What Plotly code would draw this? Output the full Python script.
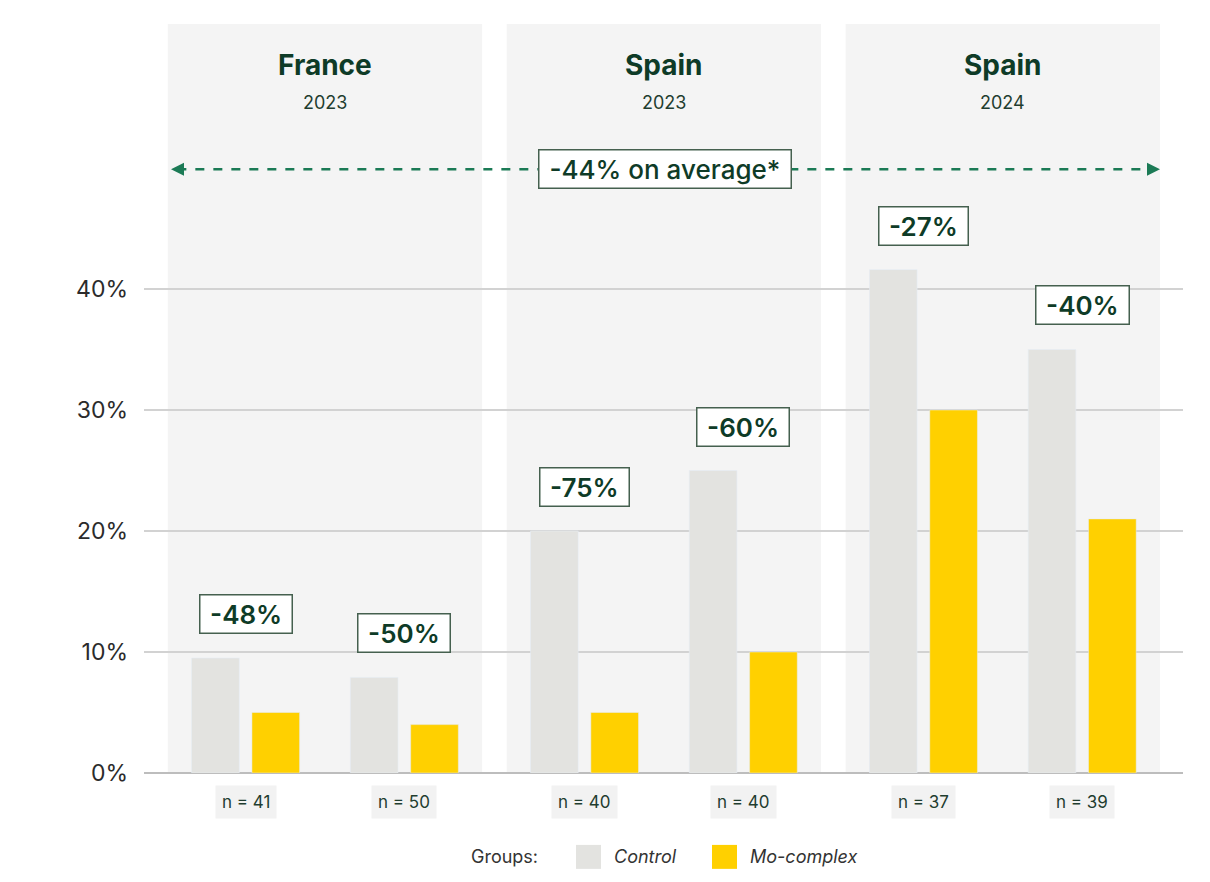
import plotly.graph_objects as go

# ! chart data
group_names = ["France", "Spain", "Spain"]
group_years = ["2023", "2023", "2024"]
bar_group = [0, 0, 1, 1, 2, 2]
control = [9.5, 7.9, 20.0, 25.0, 41.6, 35.0]
mo_complex = [5.0, 4.0, 5.0, 10.0, 30.0, 21.0]
reductions = ["-48%", "-50%", "-75%", "-60%", "-27%", "-40%"]
sample_sizes = [41, 50, 40, 40, 37, 39]
average_label = "-44% on average*"
y_ticks = [0, 10, 20, 30, 40]

GREEN_DARK = "#0e3b27"
GREEN_ARROW = "#1b7a55"
PANEL = "#f4f4f4"
CONTROL_COL = "#e3e3e0"
MO_COL = "#ffd000"
FONT = "Inter"
SP = "&nbsp;"

# position of each bar pair: groups are spaced a bit wider than pairs
GROUP_STEP = 2.135
x_pos = []
for i, g in enumerate(bar_group):
    x_pos.append(g * GROUP_STEP + bar_group[:i].count(g))

fig = go.Figure()
fig.add_trace(go.Bar(x=x_pos, y=control, name="Control", marker_color=CONTROL_COL,
                     hoverinfo="skip"))
fig.add_trace(go.Bar(x=x_pos, y=mo_complex, name="Mo-complex", marker_color=MO_COL,
                     hoverinfo="skip"))

shapes = []
annotations = []

# ! panels + titles
PAD = 0.49
for g in range(len(group_names)):
    xs = [x for x, gg in zip(x_pos, bar_group) if gg == g]
    shapes.append(dict(type="rect", xref="x", yref="paper", x0=min(xs) - PAD, x1=max(xs) + PAD,
                       y0=0, y1=1, fillcolor=PANEL, line_width=0, layer="below"))
    cx = (min(xs) + max(xs)) / 2
    annotations.append(dict(x=cx, y=0.945, xref="x", yref="paper", yanchor="middle",
                            text=group_names[g], showarrow=False,
                            font=dict(family=FONT, size=28, color=GREEN_DARK, weight=700)))
    annotations.append(dict(x=cx, y=0.895, xref="x", yref="paper", yanchor="middle",
                            text=group_years[g], showarrow=False,
                            font=dict(family=FONT, size=18, color="#1f3d2f")))

# ! average arrow
left = min(x_pos) - PAD + 0.02
right = max(x_pos) + PAD
ARROW_Y = 0.806
shapes.append(dict(type="line", xref="x", yref="paper", x0=left + 0.04, x1=right - 0.04,
                   y0=ARROW_Y, y1=ARROW_Y, line=dict(color=GREEN_ARROW, width=2.5, dash="dash")))
for xe, off in [(left, 10), (right, -10)]:
    annotations.append(dict(x=xe, y=ARROW_Y, xref="x", yref="paper", text="", showarrow=True,
                            ax=off, ay=0, arrowhead=2, arrowsize=1.3, arrowwidth=2,
                            arrowcolor=GREEN_ARROW))
annotations.append(dict(x=(left + right) / 2, y=ARROW_Y, xref="x", yref="paper", yanchor="middle",
                        text=SP + average_label + SP, showarrow=False, bgcolor="white",
                        bordercolor="#45604f", borderwidth=1.5, borderpad=3,
                        font=dict(family=FONT, size=26, color=GREEN_DARK, weight=500)))

# ! reduction labels and sample sizes
for x, c, r, n in zip(x_pos, control, reductions, sample_sizes):
    annotations.append(dict(x=x, y=c, xref="x", yref="y", yanchor="middle", text=SP + r + SP,
                            showarrow=False, yshift=44,
                            bgcolor="white", bordercolor="#45604f", borderwidth=1.5, borderpad=3,
                            font=dict(family=FONT, size=26, color=GREEN_DARK, weight=600)))
    annotations.append(dict(x=x, y=-0.039, xref="x", yref="paper", yanchor="middle",
                            text="n = %d" % n, showarrow=False, bgcolor="#f2f2f2", borderpad=6,
                            font=dict(family=FONT, size=17, color="#1f3d2f")))

# ! legend (drawn by hand for the large swatches)
LEG_Y = -0.112
annotations.append(dict(x=(540 - 144) / 1039, y=LEG_Y, xref="paper", yref="paper", text="Groups:",
                        xanchor="right", yanchor="middle", showarrow=False,
                        font=dict(family=FONT, size=18, color="#333")))
for x0, name, col in [(576, "Control", CONTROL_COL), (712, "Mo-complex", MO_COL)]:
    shapes.append(dict(type="rect", xref="paper", yref="paper",
                       x0=(x0 - 144) / 1039, x1=(x0 + 25 - 144) / 1039,
                       y0=LEG_Y - 0.016, y1=LEG_Y + 0.016, fillcolor=col, line_width=0))
    annotations.append(dict(x=(x0 + 36 - 144) / 1039, y=LEG_Y, xref="paper", yref="paper",
                            text="<i>%s</i>" % name, xanchor="left", yanchor="middle",
                            showarrow=False, font=dict(family=FONT, size=18, color="#333")))

# page puts the figure 8px in from the corner
fig.update_layout(
    width=1202, height=874,
    margin=dict(l=136, r=27, t=16, b=109),
    paper_bgcolor="white", plot_bgcolor="white",
    barmode="group", bargap=0.24, bargroupgap=0.21,
    showlegend=False,
    shapes=shapes, annotations=annotations,
    font=dict(family=FONT),
)
fig.update_xaxes(range=[-0.64, 5.905], showticklabels=False, showgrid=False, zeroline=False)
fig.update_yaxes(range=[0, 61.9], tickvals=y_ticks, ticktext=["%d%%" % t for t in y_ticks],
                 showgrid=True, gridcolor="#d2d2d2", gridwidth=1.5,
                 zeroline=True, zerolinecolor="#bdbdbd", zerolinewidth=2,
                 ticklabelstandoff=15, tickfont=dict(family=FONT, size=23, color="#2b2b2b"))

fig.write_html("out.html")
